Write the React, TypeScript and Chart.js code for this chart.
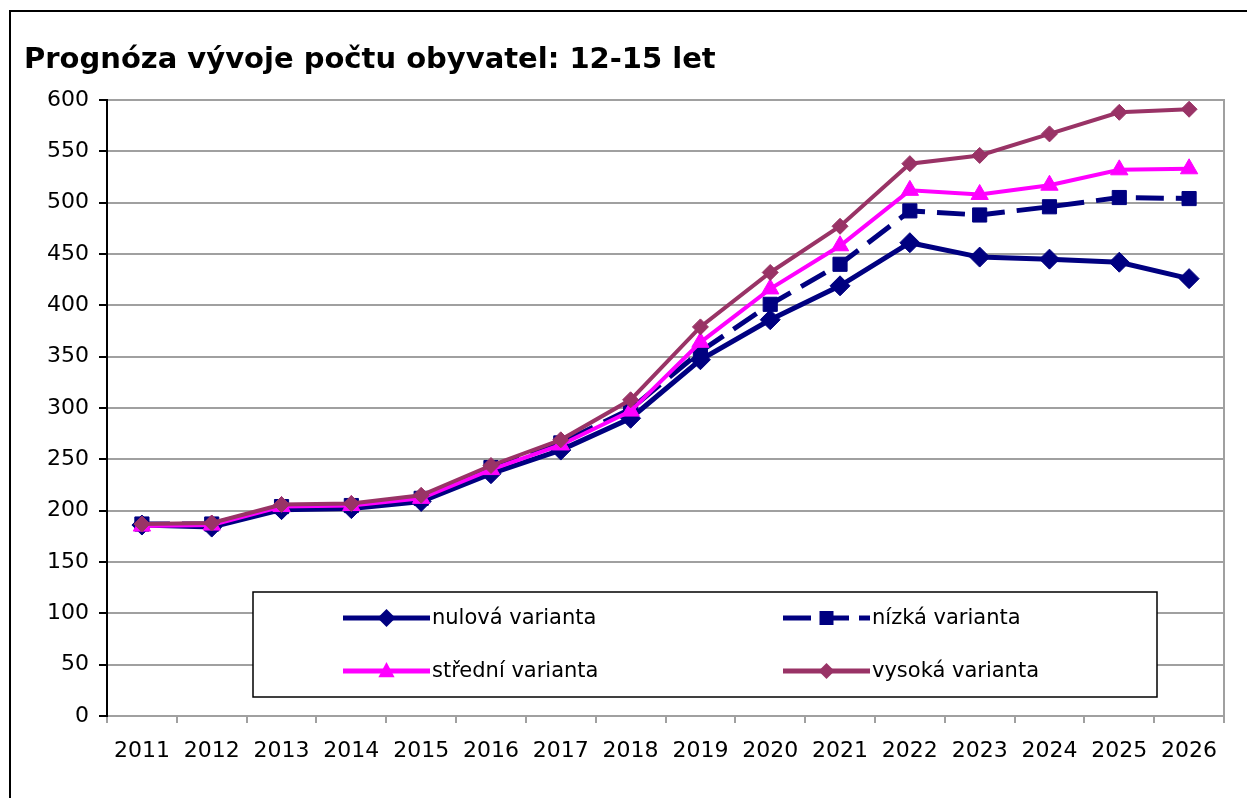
import React, { useEffect, useRef } from 'react';
import { Chart, registerables } from 'chart.js';

Chart.register(...registerables);

const titleText = 'Prognóza vývoje počtu obyvatel: 12-15 let';
const years = ['2011', '2012', '2013', '2014', '2015', '2016', '2017', '2018', '2019', '2020', '2021', '2022', '2023', '2024', '2025', '2026'];
const nulova = [186, 184, 201, 202, 209, 236, 259, 290, 347, 386, 419, 461, 447, 445, 442, 426];
const nizka = [187, 187, 204, 205, 212, 242, 266, 299, 355, 401, 440, 492, 488, 496, 505, 504];
const stredni = [185, 186, 204, 205, 212, 240, 264, 297, 364, 416, 458, 512, 508, 517, 532, 533];
const vysoka = [187, 188, 206, 207, 215, 244, 269, 308, 379, 432, 477, 538, 546, 567, 588, 591];
const seriesNames = ['nulová varianta', 'nízká varianta', 'střední varianta', 'vysoká varianta'];
const yMin = 0;
const yMax = 600;
const yStep = 50;

const NAVY = '#000080';
const MAGENTA = '#FF00FF';
const PURPLE = '#993366';
const GRID = '#a0a0a0';
const FONT = "'DejaVu Sans', Verdana, sans-serif";

type LegendItem = { color: string; dash: number[]; marker: string; size: number; width: number };
const legendStyles: LegendItem[] = [
  { color: NAVY, dash: [], marker: 'diamond', size: 9, width: 5 },
  { color: NAVY, dash: [28, 10], marker: 'square', size: 7, width: 5 },
  { color: MAGENTA, dash: [], marker: 'triangle', size: 9, width: 5 },
  { color: PURPLE, dash: [], marker: 'diamond', size: 8, width: 5 },
];

function drawMarker(ctx: CanvasRenderingContext2D, kind: string, x: number, y: number, r: number, color: string) {
  ctx.save();
  ctx.setLineDash([]);
  ctx.fillStyle = color;
  ctx.beginPath();
  if (kind === 'diamond') {
    ctx.moveTo(x, y - r);
    ctx.lineTo(x + r, y);
    ctx.lineTo(x, y + r);
    ctx.lineTo(x - r, y);
  } else if (kind === 'square') {
    ctx.rect(x - r, y - r, 2 * r, 2 * r);
  } else {
    ctx.moveTo(x, y - r);
    ctx.lineTo(x + r * 0.9, y + r * 0.7);
    ctx.lineTo(x - r * 0.9, y + r * 0.7);
  }
  ctx.closePath();
  ctx.fill();
  ctx.restore();
}

const frameAndLegend = {
  id: 'frameAndLegend',
  afterDatasetsDraw(chart: any) {
    const ctx: CanvasRenderingContext2D = chart.ctx;
    const area = chart.chartArea;
    ctx.save();
    // right border of plot area
    ctx.strokeStyle = GRID;
    ctx.lineWidth = 2;
    ctx.beginPath();
    ctx.moveTo(area.right, area.top - 1);
    ctx.lineTo(area.right, area.bottom);
    ctx.stroke();

    // legend box
    const bx = 253, by = 592, bw = 904, bh = 105;
    ctx.fillStyle = '#ffffff';
    ctx.fillRect(bx, by, bw, bh);
    ctx.strokeStyle = '#000000';
    ctx.lineWidth = 1.5;
    ctx.strokeRect(bx, by, bw, bh);

    const cols = [343, 783];
    const rows = [618, 671];
    const lineLen = 87;
    ctx.font = `21px ${FONT}`;
    ctx.textBaseline = 'middle';
    ctx.textAlign = 'left';
    seriesNames.forEach((name, i) => {
      const st = legendStyles[i];
      const x0 = cols[i % 2];
      const y = rows[Math.floor(i / 2)];
      ctx.strokeStyle = st.color;
      ctx.lineWidth = st.width;
      ctx.setLineDash(st.dash);
      ctx.beginPath();
      ctx.moveTo(x0, y);
      ctx.lineTo(x0 + lineLen, y);
      ctx.stroke();
      ctx.setLineDash([]);
      drawMarker(ctx, st.marker, x0 + lineLen / 2, y, st.size, st.color);
      ctx.fillStyle = '#000000';
      ctx.fillText(name, x0 + lineLen + 2, y + 1);
    });
    ctx.restore();
  },
};

export default function App() {
  const canvasRef = useRef<HTMLCanvasElement | null>(null);

  useEffect(() => {
    if (!canvasRef.current) return;
    Chart.defaults.font.family = FONT;
    const chart = new Chart(canvasRef.current, {
      type: 'line',
      data: {
        labels: years,
        datasets: [
          {
            label: seriesNames[0],
            data: nulova,
            borderColor: NAVY,
            backgroundColor: NAVY,
            borderWidth: 5,
            pointStyle: 'rectRot',
            pointRadius: 10,
            pointBorderWidth: 1,
            pointBackgroundColor: NAVY,
            pointBorderColor: NAVY,
            tension: 0,
            order: 3,
          },
          {
            label: seriesNames[1],
            data: nizka,
            borderColor: NAVY,
            backgroundColor: NAVY,
            borderWidth: 5,
            borderDash: [28, 12],
            pointStyle: 'rect',
            pointRadius: 10,
            pointBorderWidth: 1,
            pointBackgroundColor: NAVY,
            pointBorderColor: NAVY,
            tension: 0,
            order: 2,
          },
          {
            label: seriesNames[2],
            data: stredni,
            borderColor: MAGENTA,
            backgroundColor: MAGENTA,
            borderWidth: 4,
            pointStyle: 'triangle',
            pointRadius: 10,
            pointBorderWidth: 1,
            pointBackgroundColor: MAGENTA,
            pointBorderColor: MAGENTA,
            tension: 0,
            order: 1,
          },
          {
            label: seriesNames[3],
            data: vysoka,
            borderColor: PURPLE,
            backgroundColor: PURPLE,
            borderWidth: 4,
            pointStyle: 'rectRot',
            pointRadius: 8,
            pointBorderWidth: 1,
            pointBackgroundColor: PURPLE,
            pointBorderColor: PURPLE,
            tension: 0,
            order: 0,
          },
        ],
      },
      options: {
        animation: false,
        responsive: false,
        maintainAspectRatio: false,
        layout: { padding: { top: 100, right: 23, bottom: 0, left: 0 } },
        plugins: {
          legend: { display: false },
          tooltip: { enabled: false },
          title: { display: false },
        },
        scales: {
          x: {
            type: 'category',
            offset: true,
            grid: {
              offset: true,
              drawOnChartArea: false,
              drawTicks: true,
              tickLength: 7,
              tickColor: GRID,
              lineWidth: 2,
              color: GRID,
            },
            border: { color: GRID, width: 2 },
            ticks: {
              color: '#000000',
              font: { family: FONT, size: 22 },
              padding: 15,
              maxRotation: 0,
              autoSkip: false,
            },
            afterFit: (s: any) => {
              s.height = 82;
            },
          },
          y: {
            min: yMin,
            max: yMax,
            ticks: {
              stepSize: yStep,
              color: '#000000',
              font: { family: FONT, size: 22 },
              padding: 10,
            },
            grid: {
              color: GRID,
              lineWidth: 2,
              tickColor: '#000000',
              tickLength: 8,
            },
            border: { color: '#000000', width: 2 },
            afterFit: (s: any) => {
              s.width = 107;
            },
          },
        },
      },
      plugins: [frameAndLegend],
    });
    return () => chart.destroy();
  }, []);

  return (
    <div style={{ position: 'fixed', left: 0, top: 0, width: 1247, height: 798, overflow: 'hidden', background: '#ffffff' }}>
      <div
        style={{
          position: 'absolute',
          left: 9,
          top: 10,
          width: 1400,
          height: 1000,
          border: '2px solid #000000',
          boxSizing: 'border-box',
        }}
      />
      <canvas ref={canvasRef} width={1247} height={798} style={{ position: 'absolute', left: 0, top: 0, width: 1247, height: 798 }} />
      <div
        style={{
          position: 'absolute',
          left: 24,
          top: 43,
          fontFamily: FONT,
          fontWeight: 'bold',
          fontSize: 29,
          lineHeight: '30px',
          color: '#000000',
          whiteSpace: 'nowrap',
        }}
      >
        {titleText}
      </div>
    </div>
  );
}
